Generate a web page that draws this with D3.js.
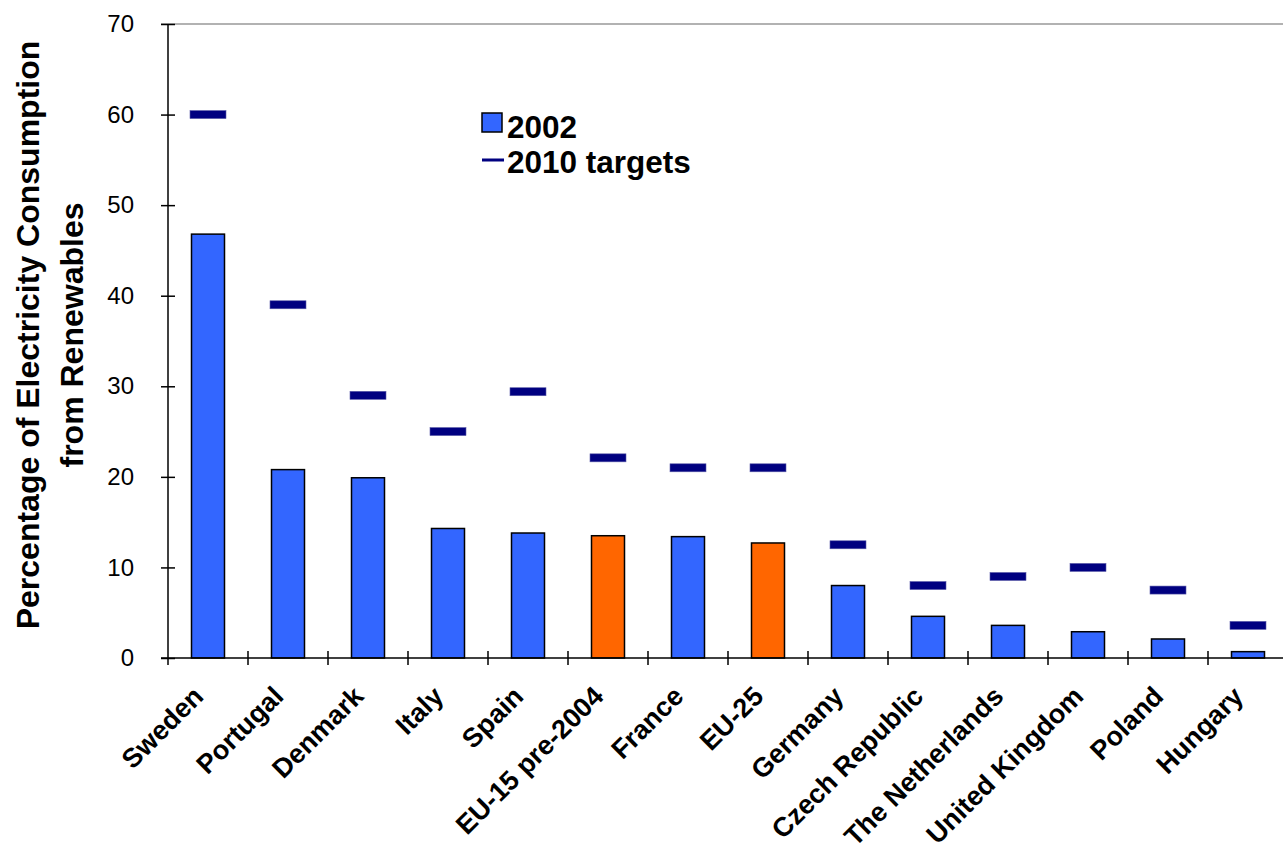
<!DOCTYPE html>
<html>
<head>
<meta charset="utf-8">
<script src="https://cdn.jsdelivr.net/npm/d3@7/dist/d3.min.js"></script>
<style>
  html, body { margin: 0; padding: 0; background: #fff; }
  svg { display: block; }
  text { font-family: Arial, "Liberation Sans", sans-serif; }
</style>
</head>
<body>
<svg id="chart" width="1283" height="855"></svg>
<script>
const categories = ["Sweden", "Portugal", "Denmark", "Italy", "Spain", "EU-15 pre-2004", "France", "EU-25", "Germany", "Czech Republic", "The Netherlands", "United Kingdom", "Poland", "Hungary"];
const values2002 = [46.8, 20.8, 19.9, 14.3, 13.8, 13.5, 13.4, 12.7, 8.0, 4.6, 3.6, 2.9, 2.1, 0.7];
const targets2010 = [60, 39, 29, 25, 29.4, 22.1, 21, 21, 12.5, 8, 9, 10, 7.5, 3.6];
const aggregates = ["EU-15 pre-2004", "EU-25"];
const yTicks = [0, 10, 20, 30, 40, 50, 60, 70];
const legendLabels = ["2002", "2010 targets"];
const yTitleLines = ["Percentage of Electricity Consumption", "from Renewables"];

(function () {
const svg = d3.select("#chart");
const mLeft = 168, mRight = 1288, mTop = 24, mBottom = 658;

const x = d3.scaleBand().domain(categories).range([mLeft, mRight])
  .paddingInner(0.5875).paddingOuter(0.5875 / 2);
const y = d3.scaleLinear().domain([0, 70]).range([mBottom, mTop]);
const step = x.step(), bw = x.bandwidth();

// top border (gray)
svg.append("line").attr("x1", mLeft - 7).attr("x2", 1283).attr("y1", y(70)).attr("y2", y(70))
  .attr("stroke", "#999").attr("stroke-width", 1.5);

// bars
svg.append("g").selectAll("rect").data(categories).join("rect")
  .attr("x", d => x(d))
  .attr("y", (d, i) => y(values2002[i]))
  .attr("width", bw)
  .attr("height", (d, i) => y(0) - y(values2002[i]))
  .attr("fill", d => aggregates.includes(d) ? "#FF6600" : "#3366FF")
  .attr("stroke", "#000").attr("stroke-width", 1.5);

// targets
const tw = 36, th = 8;
svg.append("g").selectAll("rect").data(categories).join("rect")
  .attr("x", d => x(d) + bw / 2 - tw / 2)
  .attr("y", (d, i) => y(targets2010[i]) - th / 2)
  .attr("width", tw).attr("height", th)
  .attr("fill", "#000080").attr("stroke", "#5a5aa8").attr("stroke-width", 0.6);

// y axis
const yAxis = svg.append("g").attr("transform", `translate(${mLeft},0)`)
  .call(d3.axisLeft(y).tickValues(yTicks).tickSize(7).tickPadding(27));
yAxis.select(".domain").remove();
yAxis.selectAll(".tick line").attr("x1", 7).attr("stroke", "#000").attr("stroke-width", 1.5);
yAxis.selectAll(".tick text").attr("font-size", 24).attr("fill", "#000")
  .attr("font-family", "Arial, 'Liberation Sans', sans-serif");
svg.append("line").attr("x1", mLeft).attr("x2", mLeft).attr("y1", y(70)).attr("y2", mBottom + 7)
  .attr("stroke", "#000").attr("stroke-width", 1.5);

// x axis line
svg.append("line").attr("x1", mLeft - 7).attr("x2", 1283).attr("y1", mBottom).attr("y2", mBottom)
  .attr("stroke", "#000").attr("stroke-width", 1.5);
// category boundary ticks
svg.append("g").selectAll("line").data(categories).join("line")
  .attr("x1", d => x(d) + bw / 2 + step / 2).attr("x2", d => x(d) + bw / 2 + step / 2)
  .attr("y1", mBottom - 7).attr("y2", mBottom + 7)
  .attr("stroke", "#000").attr("stroke-width", 1.5);

// x labels
const xAxis = svg.append("g").attr("transform", `translate(0,${mBottom})`)
  .call(d3.axisBottom(x).tickSize(0).tickPadding(0));
xAxis.select(".domain").remove();
xAxis.selectAll(".tick text")
  .attr("font-size", 27).attr("font-weight", "bold").attr("fill", "#000")
  .attr("font-family", "Arial, 'Liberation Sans', sans-serif")
  .attr("text-anchor", "end").attr("dy", null).attr("y", null)
  .attr("transform", "translate(-3,40) rotate(-45)");

// y title
const yt = svg.append("text")
  .attr("transform", `translate(0,${(mTop + mBottom) / 2 - 6}) rotate(-90)`)
  .attr("text-anchor", "middle").attr("font-size", 32).attr("font-weight", "bold").attr("fill", "#000");
yt.selectAll("tspan").data(yTitleLines).join("tspan")
  .attr("x", 0).attr("y", (d, i) => 39 + i * 44).text(d => d);

// legend
const lg = svg.append("g");
lg.append("rect").attr("x", 482).attr("y", 113).attr("width", 20).attr("height", 19)
  .attr("fill", "#3366FF").attr("stroke", "#000").attr("stroke-width", 1.5);
lg.append("rect").attr("x", 482).attr("y", 158.5).attr("width", 22).attr("height", 3)
  .attr("fill", "#000080");
lg.selectAll("text").data(legendLabels).join("text")
  .attr("x", 507).attr("y", (d, i) => 138 + i * 35)
  .attr("font-size", 31.5).attr("font-weight", "bold").attr("fill", "#000")
  .text(d => d);
})();
</script>
</body>
</html>
